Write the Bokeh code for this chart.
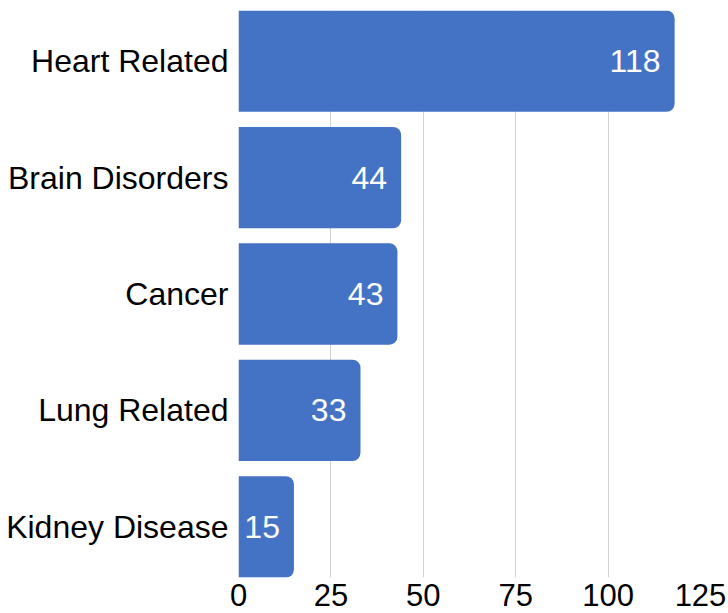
from bokeh.plotting import figure
from bokeh.models import Range1d, ColumnDataSource, FixedTicker
from bokeh.core.properties import value
from bokeh.embed import file_html
from bokeh.resources import INLINE

categories = ["Heart Related", "Brain Disorders", "Cancer", "Lung Related", "Kidney Disease"]
counts = [118, 44, 43, 33, 15]
x_ticks = [0, 25, 50, 75, 100, 125]

n = len(categories)
ypos = [n - 1 - i for i in range(n)]
src = ColumnDataSource(dict(y=ypos, x=counts, lab=[str(c) for c in counts]))

p = figure(width=728, height=613, output_backend="svg", toolbar_location=None,
           x_range=Range1d(0, 125), y_range=Range1d(-0.435, n - 1 + 0.435),
           min_border_left=238, min_border_right=28, min_border_top=10, min_border_bottom=36)
p.outline_line_color = None
p.background_fill_color = "white"
p.border_fill_color = "white"

p.hbar(y="y", right="x", left=0, height=0.87, source=src, fill_color="#4472C4",
       line_color=None, border_radius=(0, 8, 8, 0))
p.text(x="x", y="y", text="lab", source=src, x_offset=-14, text_align="right",
       text_baseline="middle", text_color="white", text_font=value("Liberation Sans"),
       text_font_size="32px")

p.xaxis.ticker = FixedTicker(ticks=x_ticks)
p.xaxis.axis_line_color = None
p.xaxis.major_tick_line_color = None
p.xaxis.minor_tick_line_color = None
p.xaxis.major_tick_out = 0
p.xaxis.major_label_standoff = 6
p.xaxis.major_label_text_font = "Liberation Sans"
p.xaxis.major_label_text_font_size = "31px"
p.xaxis.major_label_text_color = "black"

p.yaxis.ticker = FixedTicker(ticks=ypos)
p.yaxis.major_label_overrides = {y: c for y, c in zip(ypos, categories)}
p.yaxis.axis_line_color = None
p.yaxis.major_tick_line_color = None
p.yaxis.minor_tick_line_color = None
p.yaxis.major_tick_out = 0
p.yaxis.major_label_standoff = 10
p.yaxis.major_label_text_font = "Liberation Sans"
p.yaxis.major_label_text_font_size = "32px"
p.yaxis.major_label_text_color = "black"

p.ygrid.grid_line_color = None
p.xgrid.grid_line_color = "#d0d0d0"
p.xgrid.grid_line_width = 1

open("out.html", "w").write(file_html(p, INLINE))
